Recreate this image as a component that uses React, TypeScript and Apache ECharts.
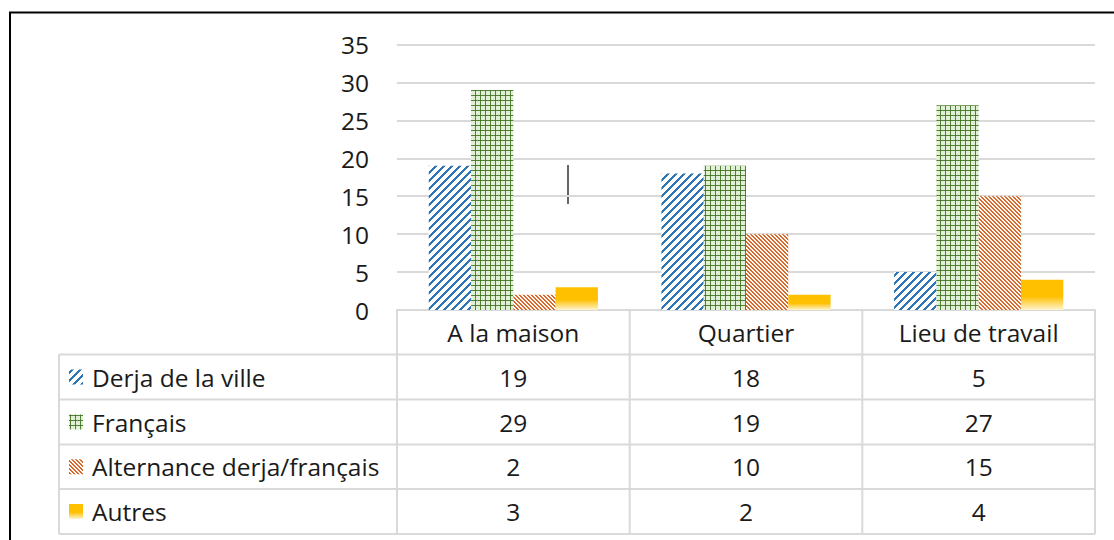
import React, { useEffect, useRef } from "react";
import * as echarts from "echarts";

const categories = ["A la maison", "Quartier", "Lieu de travail"];
const seriesNames = ["Derja de la ville", "Français", "Alternance derja/français", "Autres"];
const derjaValues = [19, 18, 5];
const francaisValues = [29, 19, 27];
const alternanceValues = [2, 10, 15];
const autresValues = [3, 2, 4];
const yMin = 0;
const yMax = 35;
const yInterval = 5;

const W = 1114;
const H = 540;
const FONT = "'Open Sans'";
const FS = 24.5;
const TEXT = "#1a1a1a";
const LINE = "#D9D9D9";

// layout
const plotLeft = 397;
const plotRight = 1095;
const plotTop = 44.5;
const plotBottom = 310;
const tableLeft = 59;
const rowLines = [354.5, 399.5, 444.5, 489, 534];

function tile(size: number, fn: (x: number, y: number) => number[]) {
  const c = document.createElement("canvas");
  c.width = size;
  c.height = size;
  const ctx = c.getContext("2d")!;
  const img = ctx.createImageData(size, size);
  for (let y = 0; y < size; y++) {
    for (let x = 0; x < size; x++) {
      const [r, g, b, a] = fn(x, y);
      const i = (y * size + x) * 4;
      img.data[i] = r;
      img.data[i + 1] = g;
      img.data[i + 2] = b;
      img.data[i + 3] = a;
    }
  }
  ctx.putImageData(img, 0, 0);
  return { image: c.toDataURL(), repeat: "repeat", imageWidth: size, imageHeight: size } as any;
}

function makeFills() {
  const blue = tile(8, (x, y) => (((x + y) % 8) < 3 ? [46, 117, 182, 255] : [255, 255, 255, 255]));
  const green = tile(5, (x, y) =>
    x === 0 && y === 0
      ? [70, 112, 40, 255]
      : x === 0 || y === 0
      ? [84, 130, 53, 255]
      : [225, 238, 216, 255]
  );
  const orange = tile(4, (x, y) => ((((x - y) % 4) + 4) % 4 < 2 ? [215, 105, 45, 255] : [255, 250, 246, 255]));
  const gold = new echarts.graphic.LinearGradient(0, 0, 0, 1, [
    { offset: 0, color: "#FFC000" },
    { offset: 0.55, color: "#FFC000" },
    { offset: 1, color: "#FFF4D0" },
  ]);
  return [blue, green, orange, gold];
}

export default function App() {
  const ref = useRef<HTMLDivElement>(null);
  useEffect(() => {
    if (!ref.current) return;
    const chart = echarts.init(ref.current, undefined, { renderer: "svg", width: W, height: H });
    const fills = makeFills();
    const values = [derjaValues, francaisValues, alternanceValues, autresValues];

    const colW = (plotRight - plotLeft) / categories.length;
    const graphics: any[] = [];
    // outer border
    graphics.push({
      type: "rect",
      shape: { x: 10, y: 12.5, width: 1130, height: 560 },
      style: { fill: "none", stroke: "#000", lineWidth: 2 },
      silent: true,
    });
    // table horizontal lines
    rowLines.forEach((y) => {
      graphics.push({
        type: "line",
        shape: { x1: tableLeft, y1: y, x2: plotRight, y2: y },
        style: { stroke: LINE, lineWidth: 2 },
        silent: true,
      });
    });
    // vertical lines
    graphics.push({
      type: "line",
      shape: { x1: tableLeft, y1: rowLines[0], x2: tableLeft, y2: rowLines[rowLines.length - 1] },
      style: { stroke: LINE, lineWidth: 2 },
      silent: true,
    });
    for (let i = 0; i <= categories.length; i++) {
      const x = plotLeft + colW * i;
      graphics.push({
        type: "line",
        shape: { x1: x, y1: plotBottom, x2: x, y2: rowLines[rowLines.length - 1] },
        style: { stroke: LINE, lineWidth: 2 },
        silent: true,
      });
    }
    // row labels, icons and values
    seriesNames.forEach((name, r) => {
      const cy = (rowLines[r] + rowLines[r + 1]) / 2;
      graphics.push({
        type: "rect",
        shape: { x: 69, y: cy - 7.5, width: 14, height: 15 },
        style: { fill: fills[r] },
        silent: true,
      });
      graphics.push({
        type: "text",
        x: 92,
        y: cy,
        style: { text: name, font: `${FS}px ${FONT}`, fill: TEXT, verticalAlign: "middle", align: "left" },
        silent: true,
      });
      values[r].forEach((v, c) => {
        graphics.push({
          type: "text",
          x: plotLeft + colW * (c + 0.5),
          y: cy,
          style: { text: String(v), font: `${FS}px ${FONT}`, fill: TEXT, verticalAlign: "middle", align: "center" },
          silent: true,
        });
      });
    });
    // stray cursor mark
    graphics.push({
      type: "line",
      shape: { x1: 568, y1: 165, x2: 568, y2: 204 },
      style: { stroke: "#333", lineWidth: 1.5 },
      silent: true,
    });

    chart.setOption({
      animation: false,
      grid: {
        left: plotLeft,
        right: W - plotRight,
        top: plotTop,
        bottom: H - plotBottom,
        containLabel: false,
      },
      xAxis: {
        type: "category",
        data: categories,
        axisLine: { show: true, lineStyle: { color: LINE, width: 2 } },
        axisTick: { show: false },
        axisLabel: {
          color: TEXT,
          fontFamily: FONT,
          fontSize: FS,
          margin: 22,
          verticalAlign: "middle",
        },
      },
      yAxis: {
        type: "value",
        min: yMin,
        max: yMax,
        interval: yInterval,
        axisLine: { show: false },
        axisTick: { show: false },
        axisLabel: { color: TEXT, fontFamily: FONT, fontSize: FS, margin: 28 },
        splitLine: { lineStyle: { color: LINE, width: 2 } },
      },
      series: seriesNames.map((name, i) => ({
        type: "bar",
        name,
        data: values[i],
        barGap: "0%",
        barCategoryGap: "27.3%",
        itemStyle: { color: fills[i] },
        emphasis: { disabled: true },
      })),
      graphic: graphics,
    });
    return () => chart.dispose();
  }, []);
  return (
    <div
      ref={ref}
      style={{ position: "absolute", left: 0, top: 0, width: W, height: H, background: "#fff" }}
    />
  );
}
